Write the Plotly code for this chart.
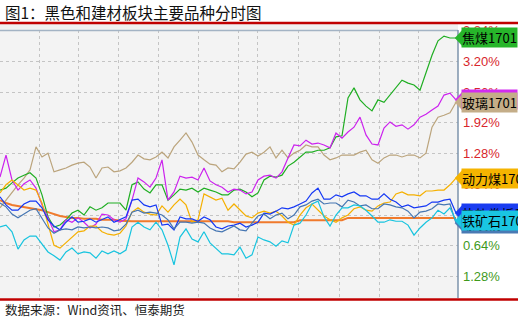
import plotly.graph_objects as go

# ---- data (percent change, intraday, sampled) ----
coking_coal = [0.52,0.56,0.67,0.77,0.83,0.88,0.77,0.42,-0.04,-0.25,
               -0.21,-0.10,0.04,0.10,0.00,0.17,0.10,0.15,0.25,0.25,
               0.25,0.10,0.63,0.69,0.54,0.46,0.63,0.63,0.31,0.42,
               0.54,0.52,0.56,0.48,0.56,0.52,0.48,0.42,0.42,0.52,
               0.54,0.48,0.38,0.46,0.73,0.81,0.79,0.83,1.02,1.10,
               1.21,1.31,1.31,1.35,1.35,1.40,1.63,1.65,2.44,2.65,
               2.40,2.27,2.17,2.40,2.35,2.50,2.65,2.81,2.75,2.71,
               2.60,2.98,3.33,3.63,3.73,3.69,3.69]
coke = [0.79,1.25,0.73,0.52,0.65,0.73,0.56,0.21,-0.06,-0.35,
        -0.31,-0.10,-0.15,-0.06,-0.15,-0.27,-0.19,0.02,0.00,-0.10,
        -0.15,-0.08,0.31,0.77,0.69,0.58,0.77,1.15,0.31,0.48,
        0.81,0.77,0.79,0.73,0.98,0.71,0.63,0.58,0.48,0.54,
        0.52,0.44,0.48,0.73,0.81,0.83,0.77,0.90,1.19,1.46,
        1.44,1.56,1.48,1.50,1.46,1.40,1.71,1.60,1.73,1.83,
        2.04,1.67,1.48,1.46,1.81,1.94,1.85,1.88,1.79,1.88,
        2.04,2.10,2.19,2.27,2.50,2.54,2.40]
glass = [0.15,0.31,0.48,0.63,0.77,0.94,1.42,1.21,1.29,0.90,
         0.94,0.98,1.04,1.08,1.10,1.00,0.77,0.98,1.00,0.90,
         0.92,0.98,1.10,1.25,1.17,1.15,1.21,1.31,1.19,1.42,
         1.56,1.71,1.52,1.25,1.15,1.06,1.04,0.90,0.98,0.96,
         1.10,1.27,1.31,1.23,1.31,1.42,1.19,1.35,1.19,1.29,
         1.35,1.46,1.42,1.42,1.25,1.15,1.19,1.25,1.25,1.25,
         1.31,1.35,1.15,1.08,1.19,1.25,1.25,1.21,1.25,1.25,
         1.19,1.29,1.83,2.04,2.08,2.13,2.35]
thermal_coal = [0.46,0.63,0.73,0.63,0.52,0.56,0.52,0.25,-0.21,-0.63,
                -0.69,-0.58,-0.46,-0.35,-0.33,-0.23,-0.23,-0.35,-0.40,-0.42,
                -0.38,-0.23,0.06,0.15,0.06,0.02,0.00,0.19,0.06,0.21,
                0.33,0.21,-0.15,-0.10,0.44,0.38,0.31,0.35,0.10,0.23,
                0.10,-0.02,-0.06,0.04,0.08,0.04,0.08,-0.02,-0.15,-0.21,
                0.00,0.15,0.23,0.10,-0.02,-0.10,-0.15,-0.06,0.00,0.13,
                0.17,0.10,0.08,0.19,0.25,0.27,0.44,0.48,0.42,0.42,
                0.40,0.50,0.50,0.52,0.52,0.63,0.77]
hot_rolled = [0.38,0.21,0.10,0.10,0.23,0.29,0.29,0.15,-0.10,-0.23,
              -0.31,-0.15,-0.04,-0.15,-0.13,-0.08,-0.15,-0.10,-0.04,-0.15,
              -0.10,-0.04,0.31,0.33,0.21,0.17,0.21,-0.21,-0.19,-0.31,
              -0.04,-0.08,-0.08,-0.13,-0.04,-0.10,-0.25,-0.29,-0.23,-0.21,
              -0.17,-0.25,-0.21,-0.15,0.04,0.02,0.08,0.15,0.13,0.17,
              0.23,0.29,0.46,0.56,0.33,0.33,0.42,0.38,0.44,0.48,
              0.40,0.40,0.33,0.33,0.44,0.33,0.27,0.17,0.21,0.15,
              0.17,0.19,0.27,0.27,0.31,0.33,0.04]
rebar = [0.25,0.17,0.02,-0.06,0.02,0.10,0.13,-0.06,-0.27,-0.38,
         -0.31,-0.29,-0.31,-0.25,-0.27,-0.25,-0.27,-0.25,-0.27,-0.33,
         -0.31,-0.19,0.06,0.10,0.04,0.06,0.04,0.00,-0.10,-0.29,
         -0.15,-0.15,-0.17,-0.15,-0.17,-0.27,-0.33,-0.35,-0.29,-0.23,
         -0.31,-0.33,-0.17,-0.02,0.02,-0.08,0.00,0.04,-0.08,0.00,
         0.17,0.21,0.29,0.33,0.23,0.25,0.25,0.17,0.31,0.27,
         0.19,0.21,0.13,0.13,0.23,0.21,0.17,0.15,0.08,-0.06,
         0.06,0.08,0.13,0.23,0.21,0.23,-0.17]
iron_ore = [-0.25,-0.21,-0.35,-0.71,-0.52,-0.44,-0.44,-0.60,-0.77,-0.85,
            -0.94,-0.77,-0.69,-0.81,-0.77,-0.79,-0.90,-0.75,-0.81,-0.75,
            -0.81,-0.73,-0.25,-0.15,-0.25,-0.31,-0.15,-0.31,-0.63,-1.04,
            -0.46,-0.29,-0.50,-0.56,-0.35,-0.58,-0.69,-0.81,-0.81,-0.83,
            -0.67,-0.90,-0.83,-0.46,-0.52,-0.56,-0.65,-0.54,-0.58,-0.21,
            -0.17,0.00,0.23,0.29,-0.04,-0.23,0.00,0.15,0.15,0.21,
            0.19,0.10,-0.02,-0.15,-0.15,-0.10,-0.13,-0.13,-0.21,-0.42,
            -0.27,-0.15,-0.06,0.10,0.02,0.15,-0.12]
avg_line = [0.31,0.25,0.21,0.19,0.17,0.15,0.13,0.10,0.06,0.02,
            -0.02,-0.04,-0.06,-0.06,-0.08,-0.08,-0.08,-0.10,-0.10,-0.10,
            -0.12,-0.13,-0.13,-0.13,-0.13,-0.13,-0.13,-0.13,-0.13,-0.13,
            -0.13,-0.13,-0.13,-0.13,-0.13,-0.13,-0.13,-0.13,-0.13,-0.15,
            -0.15,-0.15,-0.15,-0.15,-0.15,-0.15,-0.15,-0.15,-0.15,-0.15,
            -0.11,-0.11,-0.11,-0.11,-0.11,-0.11,-0.11,-0.11,-0.06,-0.06,
            -0.06,-0.06,-0.06,-0.06,-0.06,-0.06,-0.06,-0.06,-0.06,-0.06,
            -0.06,-0.06,-0.06,-0.06,-0.06,-0.06,-0.06]

y_ticks = [3.84, 3.20, 2.56, 1.92, 1.28, 0.64, 0.00, -0.64, -1.28]

# (name, values, line colour, tag colour) in drawing order
series = [
    ("玻璃1701", glass, "#bba47c", "#c4ad88"),
    ("焦煤1701", coking_coal, "#1fae22", "#27b52a"),
    ("焦炭1701", coke, "#cc22ee", "#d22cf0"),
    ("动力煤1701", thermal_coal, "#f5b000", "#f5b400"),
    ("热轧卷板1701", hot_rolled, "#1538f5", "#1a3cf0"),
    ("螺纹钢1701", rebar, "#4676b2", "#4a7ab4"),
    ("铁矿石1701", iron_ore, "#17c4df", "#1ac6e2"),
]
tag_order = ["焦煤1701", "焦炭1701", "玻璃1701", "动力煤1701",
             "热轧卷板1701", "螺纹钢1701", "铁矿石1701"]

W, H = 518, 319
PX = 6.0                      # pixels per sample
plot_right = 458
top_px, bot_px = 30, 298
zero_px, px_per_pct = 215, 47.97
y_top = (zero_px - top_px) / px_per_pct
y_bot = -(bot_px - zero_px) / px_per_pct
grid_px = [39, 78, 118, 158, 198, 238, 257, 298, 339, 379, 418]

def pf(px):   # x pixel -> paper
    return px / W

def pyf(px):  # y pixel -> paper
    return 1 - px / H

fig = go.Figure()
idx = list(range(len(glass)))
fig.add_trace(go.Scatter(x=idx, y=avg_line, mode="lines",
                         line=dict(color="#f07a2c", width=2), hoverinfo="skip"))
for name, vals, lc, tc in series:
    fig.add_trace(go.Scatter(x=idx, y=vals, mode="lines", name=name,
                             line=dict(color=lc, width=1.2),
                             hoverinfo="skip"))

shapes = [
    dict(type="rect", xref="paper", yref="paper", x0=0, x1=pf(plot_right),
         y0=pyf(top_px), y1=pyf(24), fillcolor="#f0f0f0", line_width=0, layer="below"),
    dict(type="line", xref="paper", yref="paper", x0=0, x1=1, y0=pyf(23), y1=pyf(23),
         line=dict(color="#c00000", width=2.5)),
    dict(type="line", xref="paper", yref="paper", x0=0, x1=1, y0=pyf(299.5), y1=pyf(299.5),
         line=dict(color="#c00000", width=2.5)),
    dict(type="line", xref="paper", yref="paper", x0=0, x1=pf(plot_right),
         y0=pyf(30.5), y1=pyf(30.5), line=dict(color="#a3b3c4", width=1.5)),
    dict(type="line", xref="paper", yref="paper", x0=pf(plot_right), x1=pf(plot_right),
         y0=pyf(bot_px), y1=pyf(top_px), line=dict(color="#7d93ab", width=1.5)),
]

annotations = [
    dict(text="图1：黑色和建材板块主要品种分时图", x=pf(3), y=pyf(12), xref="paper", yref="paper",
         xanchor="left", yanchor="middle", showarrow=False,
         font=dict(family="Noto Sans CJK SC", size=15.5, color="#111111")),
    dict(text="数据来源：Wind资讯、恒泰期货", x=pf(3), y=pyf(309), xref="paper", yref="paper",
         xanchor="left", yanchor="middle", showarrow=False,
         font=dict(family="Noto Sans CJK SC", size=12.5, color="#222222")),
]
for v in y_ticks:
    col = "#d8262c" if v > 0 else ("#3f9a1c" if v < 0 else "#555555")
    annotations.append(dict(text=f"{abs(v):.2f}%", x=pf(461), y=v, xref="paper", yref="y",
                            xanchor="left", yanchor="middle", showarrow=False,
                            font=dict(family="Liberation Sans", size=13, color=col)))

lookup = {s[0]: s for s in series}
for name in tag_order:
    _, vals, lc, tc = lookup[name]
    last = vals[-1]
    shapes.append(dict(type="path", xref="paper", yref="y", xsizemode="pixel", ysizemode="pixel",
                       xanchor=pf(455), yanchor=last, path="M 0,0 L 8,8.5 L 8,-8.5 Z",
                       fillcolor=tc, line=dict(color=tc, width=0.5), layer="above"))
    annotations.append(dict(text=name, x=pf(461), y=last, xref="paper", yref="y",
                            xanchor="left", yanchor="middle", showarrow=False,
                            bgcolor=tc, borderpad=0,
                            font=dict(family="Noto Sans CJK SC", size=13, color="#000000")))

fig.update_layout(
    width=W, height=H, margin=dict(l=0, r=0, t=0, b=0),
    paper_bgcolor="#ffffff", plot_bgcolor="#f3f3f3", showlegend=False,
    xaxis=dict(domain=[0, pf(plot_right)], range=[0, plot_right / PX],
               tickvals=[g / PX for g in grid_px], showticklabels=False, ticks="",
               showgrid=True, gridcolor="#c4c4c4", griddash="dot", gridwidth=1,
               zeroline=False, showline=False, fixedrange=True),
    yaxis=dict(domain=[pyf(bot_px), pyf(top_px)], range=[y_bot, y_top],
               tickvals=y_ticks, showticklabels=False, ticks="",
               showgrid=True, gridcolor="#c4c4c4", griddash="dot", gridwidth=1,
               zeroline=False, showline=False, fixedrange=True),
    shapes=shapes, annotations=annotations,
)

fig.write_html("out.html")
